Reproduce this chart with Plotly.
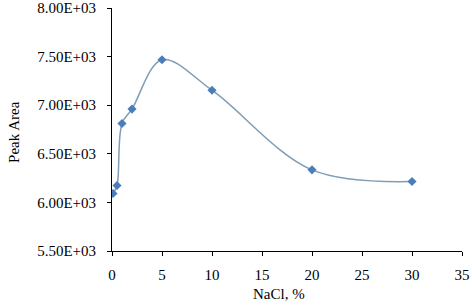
import plotly.graph_objects as go

nacl = [0.1, 0.5, 1, 2, 5, 10, 20, 30]
peak_area = [6092, 6174, 6812, 6960, 7468, 7154, 6335, 6215]

y_tickvals = [5500, 6000, 6500, 7000, 7500, 8000]
y_ticktext = ["5.50E+03", "6.00E+03", "6.50E+03", "7.00E+03", "7.50E+03", "8.00E+03"]
x_tickvals = [0, 5, 10, 15, 20, 25, 30, 35]

fig = go.Figure()
fig.add_trace(go.Scatter(
    x=nacl, y=peak_area, mode="lines+markers",
    line=dict(color="#7f9db5", width=1.5, shape="spline", smoothing=1),
    marker=dict(symbol="diamond", size=7, color="#4a7ebb"),
    showlegend=False,
))

font = dict(family="Liberation Serif", size=15, color="black")
fig.update_layout(
    width=472, height=306,
    margin=dict(l=112, r=10, t=8, b=55, autoexpand=False),
    paper_bgcolor="white", plot_bgcolor="white",
    font=font,
    annotations=[
        dict(text="Peak Area", xref="paper", yref="paper", x=(14 - 112) / 350, y=0.49,
             textangle=-90, showarrow=False, font=font, xanchor="center", yanchor="middle"),
        dict(text="NaCl, %", xref="paper", yref="paper", x=(279 - 112) / 350, y=-(294 - 251) / 243,
             showarrow=False, font=font, xanchor="center", yanchor="middle"),
    ],
)
fig.update_xaxes(
    range=[0, 35], tickvals=x_tickvals, automargin=False,
    showline=True, linecolor="black", linewidth=1,
    ticks="outside", ticklen=4, tickcolor="black",
    ticklabelstandoff=6, ticklabeloverflow="allow",
    showgrid=False, zeroline=False,
)
fig.update_yaxes(
    range=[5500, 8000], tickvals=y_tickvals, ticktext=y_ticktext, automargin=False,
    showline=True, linecolor="black", linewidth=1,
    ticks="outside", ticklen=4, tickcolor="black",
    ticklabelstandoff=8, ticklabeloverflow="allow",
    showgrid=False, zeroline=False,
)

fig.write_html("out.html", config={"displayModeBar": False},
               post_script="document.body.style.margin='0';")
